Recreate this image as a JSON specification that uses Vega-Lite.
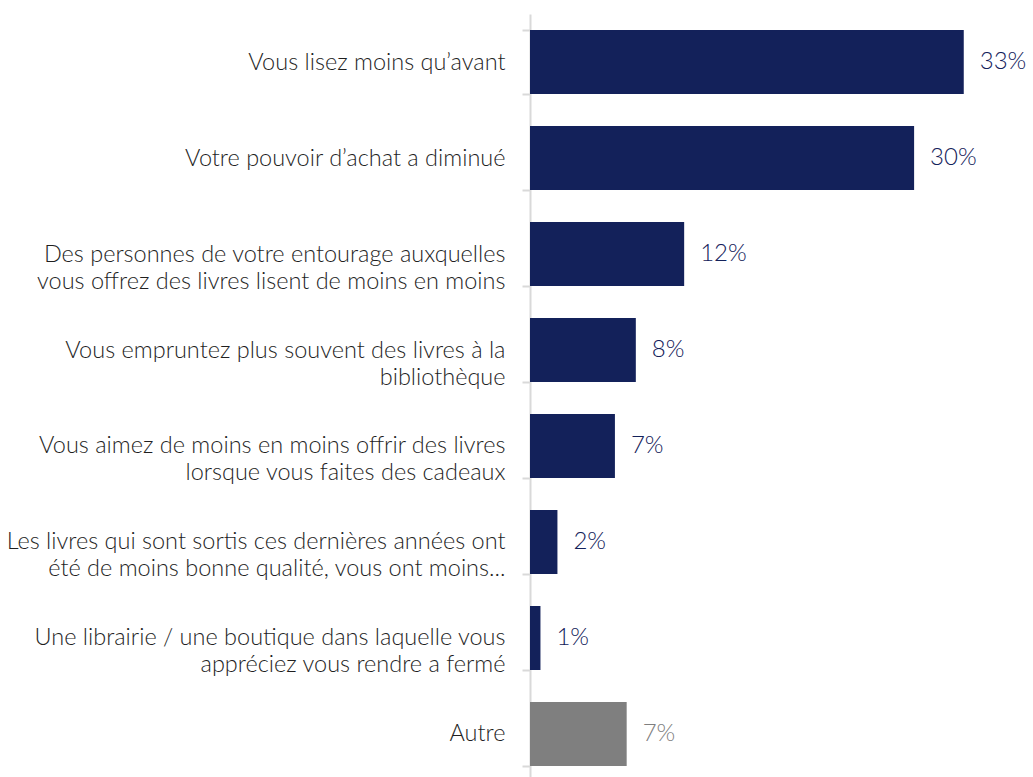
{
  "$schema": "https://vega.github.io/schema/vega-lite/v6.json",
  "autosize": {"type": "none"},
  "width": 503,
  "height": 768,
  "padding": {"left": 530, "top": 14, "right": 0, "bottom": 0},
  "background": "white",
  "config": {"view": {"stroke": null}, "font": "Lato"},
  "data": {
    "values": [
      {"raison": "Vous lisez moins qu’avant", "pct": 33.2, "txt": "33%", "groupe": "Raison"},
      {"raison": "Votre pouvoir d’achat a diminué", "pct": 29.4, "txt": "30%", "groupe": "Raison"},
      {"raison": "Des personnes de votre entourage auxquelles|vous offrez des livres lisent de moins en moins", "pct": 11.8, "txt": "12%", "groupe": "Raison"},
      {"raison": "Vous empruntez plus souvent des livres à la|bibliothèque", "pct": 8.1, "txt": "8%", "groupe": "Raison"},
      {"raison": "Vous aimez de moins en moins offrir des livres|lorsque vous faites des cadeaux", "pct": 6.5, "txt": "7%", "groupe": "Raison"},
      {"raison": "Les livres qui sont sortis ces dernières années ont|été de moins bonne qualité, vous ont moins...", "pct": 2.1, "txt": "2%", "groupe": "Raison"},
      {"raison": "Une librairie / une boutique dans laquelle vous|appréciez vous rendre a fermé", "pct": 0.8, "txt": "1%", "groupe": "Raison"},
      {"raison": "Autre", "pct": 7.4, "txt": "7%", "groupe": "Autre"}
    ]
  },
  "encoding": {
    "y": {
      "field": "raison",
      "type": "nominal",
      "sort": null,
      "scale": {"paddingInner": 0.333, "paddingOuter": 0.1667},
      "axis": {
        "title": null,
        "labelExpr": "split(datum.label, '|')",
        "labelFontSize": 23.5,
        "labelFontWeight": 300,
        "labelColor": "#1F1F1F",
        "labelLimit": 0,
        "labelLineHeight": 27,
        "labelPadding": 17,
        "tickBand": "extent",
        "tickSize": 8,
        "tickColor": "#D9D9D9",
        "tickWidth": 2,
        "domainColor": "#D9D9D9",
        "domainWidth": 2
      }
    },
    "x": {
      "field": "pct",
      "type": "quantitative",
      "scale": {"domain": [0, 38.5], "nice": false},
      "axis": null
    },
    "color": {
      "field": "groupe",
      "type": "nominal",
      "scale": {"domain": ["Raison", "Autre"], "range": ["#13215A", "#7F7F7F"]},
      "legend": null
    }
  },
  "layer": [
    {"mark": {"type": "bar"}},
    {
      "mark": {"type": "text", "align": "left", "baseline": "middle", "dx": 16, "fontSize": 24, "fontWeight": 300},
      "encoding": {"text": {"field": "txt"}}
    }
  ]
}
